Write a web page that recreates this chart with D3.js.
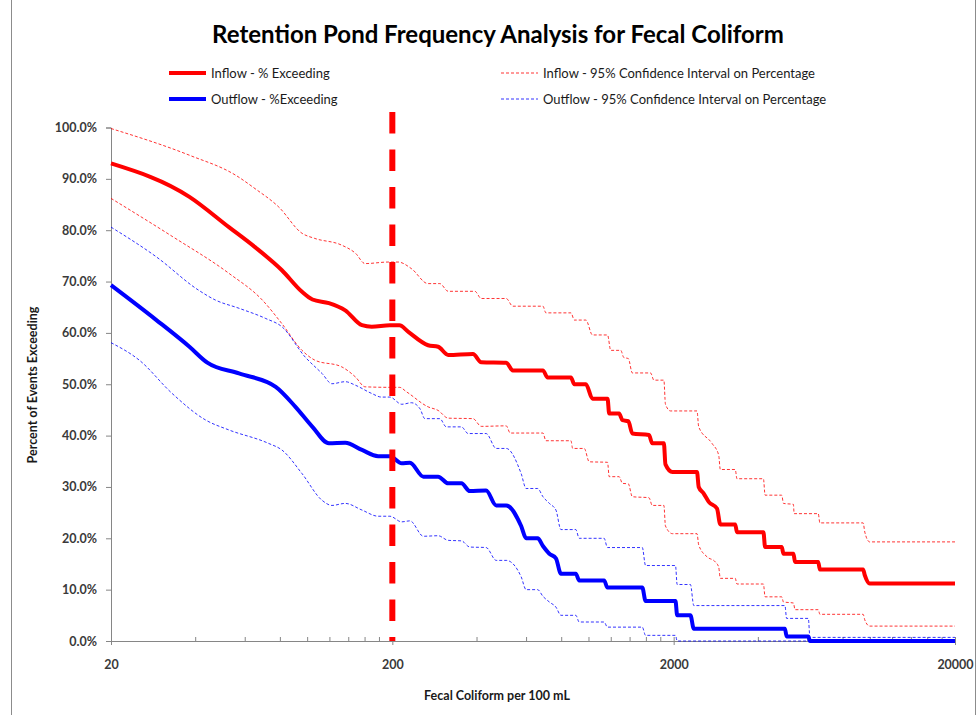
<!DOCTYPE html>
<html><head><meta charset="utf-8">
<script src="https://cdn.jsdelivr.net/npm/d3@7"></script>
<style>body{margin:0;background:#fff}svg{display:block;font-family:Lato,"Open Sans",sans-serif}</style>
</head><body><svg id="c" width="978" height="715"></svg>
<script>
// ---- data ----
const chartTitle = "Retention Pond Frequency Analysis for Fecal Coliform";
const xTitle = "Fecal Coliform per 100 mL";
const yTitle = "Percent of Events Exceeding";
const xTickValues = [20, 200, 2000, 20000];
const yTickValues = [0, 10, 20, 30, 40, 50, 60, 70, 80, 90, 100];
const standardValue = 200;
const seriesNames = ["Inflow - % Exceeding", "Outflow - %Exceeding",
  "Inflow - 95% Confidence Interval on Percentage", "Outflow - 95% Confidence Interval on Percentage"];

// [fecal coliform per 100 mL, percent exceeding]
const inflowExceed = [[20,93.0],[38,86.5],[52.5,80.6],[65,76.7],[81,72.2],[95.5,68.0],[104,66.5],[119,65.8],[136,64.4],[156,61.5],[169,61.2],[196,61.5],[212,61.5],[228,60.2],[268,57.6],[291,57.3],[316,55.7],[387,55.9],[414,54.3],[508,54.2],[536,52.7],[686,52.7],[713,51.3],[863,51.3],[887,50.0],[975,50.0],[1029,47.2],[1164,47.2],[1180,44.3],[1280,44.3],[1315,43.0],[1380,42.8],[1426,40.4],[1634,40.1],[1679,38.5],[1846,38.5],[1870,34.4],[1980,32.9],[2421,32.9],[2455,30.0],[2558,28.7],[2665,27.1],[2851,25.8],[2930,22.7],[3311,22.7],[3357,21.2],[4169,21.2],[4227,18.3],[4844,18.3],[4912,17.0],[5330,17.0],[5400,15.4],[6531,15.4],[6618,13.9],[9428,13.9],[9560,12.8],[9947,11.2],[20000,11.2]];
const inflowUpper = [[20,99.8],[38,94.6],[55.5,90.7],[65,88.1],[79,84.5],[95.5,79.4],[106,78.4],[132,77.1],[148,75.5],[160,73.5],[194,73.8],[210,73.8],[234,72.5],[268,69.6],[295,69.6],[316,68.1],[393,68.1],[414,66.7],[508,66.7],[536,65.2],[686,65.2],[703,63.9],[863,63.9],[887,62.5],[975,62.5],[1029,59.6],[1164,59.6],[1195,56.6],[1297,56.6],[1330,55.2],[1380,55.0],[1426,52.2],[1655,52.2],[1702,50.8],[1846,50.8],[1870,46.1],[1950,44.8],[2421,44.8],[2455,41.7],[2736,38.5],[2891,36.2],[2930,33.4],[3311,33.4],[3357,31.6],[4169,31.6],[4227,28.4],[4844,28.4],[4912,26.8],[5330,26.6],[5360,24.8],[6531,24.8],[6618,23.0],[9428,23.0],[9560,21.2],[9947,19.3],[20000,19.3]];
const inflowLower = [[20,86.2],[33,78.8],[52.5,71.6],[69,66.4],[81,61.8],[95.5,56.6],[106,54.7],[132,53.4],[148,51.4],[160,49.5],[196,49.4],[212,49.4],[225,48.5],[268,45.6],[291,44.9],[316,43.4],[387,43.3],[414,41.8],[508,41.9],[525,40.5],[686,40.5],[703,39.0],[863,39.0],[875,37.5],[962,37.5],[1002,34.9],[1164,34.8],[1180,32.0],[1280,32.0],[1315,30.7],[1380,30.6],[1426,28.1],[1634,27.9],[1679,26.4],[1846,26.4],[1870,22.4],[1980,20.9],[2421,20.9],[2455,18.7],[2628,16.4],[2812,15.4],[2891,14.4],[2930,12.2],[3311,12.2],[3357,11.1],[4169,11.1],[4227,8.6],[4844,8.6],[4912,7.6],[5330,7.4],[5400,6.1],[6531,6.1],[6618,5.2],[9428,5.2],[9560,4.1],[9947,2.9],[20000,2.9]];
const outflowExceed = [[20,69.3],[29,62.5],[38,57.3],[44,54.2],[57,52.1],[77,49.5],[90.5,45.6],[104,41.7],[119,38.5],[136,38.6],[156,37.2],[178,36.0],[196,36.0],[216,34.6],[231,34.7],[258,32.0],[291,32.0],[316,30.7],[352,30.7],[377,29.2],[431,29.3],[468,26.4],[508,26.4],[574,22.4],[598,20.0],[657,20.0],[686,18.5],[723,17.0],[763,16.1],[795,13.1],[898,13.1],[923,11.8],[1132,11.8],[1163,10.4],[1547,10.4],[1589,7.8],[2030,7.8],[2058,5.0],[2294,5.0],[2358,2.4],[4973,2.4],[5040,0.9],[6021,0.9],[6102,0],[20000,0]];
const outflowUpper = [[20,80.6],[29,74.8],[41,68.3],[47,66.4],[57,64.8],[71,62.8],[81,61.2],[98,55.3],[112.5,52.1],[122,50.1],[136,50.5],[148,49.8],[169,48.2],[183,47.5],[196,47.5],[216,46.1],[234,46.4],[251,45.2],[261,43.3],[295,43.3],[311,41.7],[352,41.7],[372,40.4],[431,40.4],[468,37.5],[508,37.5],[574,32.6],[598,29.7],[657,29.7],[686,28.1],[723,26.8],[763,25.5],[795,21.7],[898,21.7],[923,20.0],[1132,20.0],[1163,18.2],[1547,18.2],[1589,14.7],[2030,14.7],[2058,11.0],[2294,11.0],[2358,6.9],[4973,6.9],[5040,4.4],[6021,4.4],[6102,0.7],[20000,0.7]];
const outflowLower = [[20,58.1],[25.2,54.7],[33,48.2],[43.5,43.0],[52.5,41.1],[72.5,38.5],[81,37.2],[95.5,32.6],[112.5,27.4],[122,26.4],[136,26.8],[156,25.5],[178,24.3],[196,24.3],[216,23.2],[231,23.4],[258,20.4],[291,20.5],[316,19.6],[352,19.5],[377,18.3],[431,18.2],[468,15.7],[508,15.7],[574,12.5],[598,10.0],[657,10.0],[686,8.7],[723,7.6],[763,6.6],[795,5.0],[898,5.0],[923,3.7],[1132,3.7],[1163,2.7],[1547,2.7],[1589,1.1],[2030,1.1],[2058,0],[20000,0]];

// ---- chart ----
const svg = d3.select("#c");
const RED = "#ff0000", BLUE = "#0000ff", AX = "#868686", TXT = "#3a3a3a";
const x = d3.scaleLog().domain([20, 20000]).range([111, 955]);
const y = d3.scaleLinear().domain([0, 100]).range([641, 127.5]);

// outer chart-area border (left/right edges visible)
svg.append("rect").attr("x", 11.5).attr("y", -5).attr("width", 964).attr("height", 730)
  .attr("fill", "none").attr("stroke", "#8c8c8c").attr("stroke-width", 1);

// title
svg.append("text").attr("x", 498).attr("y", 43).attr("text-anchor", "middle")
  .attr("font-size", 24).attr("font-weight", "bold").attr("fill", "#000").text(chartTitle);

// legend
const legendItems = [
  {name: seriesNames[0], color: RED, dash: null, w: 4, op: 1, lx: 169, ly: 73},
  {name: seriesNames[1], color: BLUE, dash: null, w: 4, op: 1, lx: 169, ly: 99},
  {name: seriesNames[2], color: RED, dash: "3,2", w: 1, op: 0.8, lx: 501, ly: 73},
  {name: seriesNames[3], color: BLUE, dash: "3,2", w: 1, op: 0.8, lx: 501, ly: 99}
];
legendItems.forEach(it => {
  svg.append("line").attr("x1", it.lx).attr("x2", it.lx + 37).attr("y1", it.ly).attr("y2", it.ly)
    .attr("stroke", it.color).attr("stroke-width", it.w).attr("stroke-dasharray", it.dash)
    .attr("stroke-opacity", it.op);
  svg.append("text").attr("x", it.lx + 42).attr("y", it.ly + 4.5).attr("font-size", 13)
    .attr("fill", "#1a1a1a").text(it.name);
});

// y axis
const yAxis = svg.append("g").attr("transform", "translate(111,0)")
  .call(d3.axisLeft(y).tickValues(yTickValues).tickFormat(d => d.toFixed(1) + "%").tickSize(5).tickPadding(9));
yAxis.select(".domain").attr("stroke", AX);
yAxis.selectAll(".tick line").attr("stroke", AX);
yAxis.selectAll("text").attr("font-size", 12.5).attr("font-weight", "bold").attr("fill", TXT)
  .attr("font-family", "Lato, sans-serif");

// x axis
const xAxis = svg.append("g").attr("transform", "translate(0,641)")
  .call(d3.axisBottom(x).tickValues(xTickValues).tickFormat(d3.format("d")).tickSizeInner(4).tickSizeOuter(0).tickPadding(15));
xAxis.select(".domain").attr("stroke", AX);
xAxis.selectAll(".tick line").attr("stroke", AX).attr("y1", -4).attr("y2", 4);
xAxis.selectAll("text").attr("font-size", 12.5).attr("font-weight", "bold").attr("fill", TXT)
  .attr("font-family", "Lato, sans-serif");
// minor ticks (Excel log axis: multiples of the axis minimum)
const minorTicks = [];
[20, 200, 2000].forEach(b => { for (let m = 2; m <= 9; m++) minorTicks.push(b * m); });
svg.append("g").selectAll("line").data(minorTicks).join("line")
  .attr("x1", d => x(d)).attr("x2", d => x(d)).attr("y1", 641).attr("y2", 637)
  .attr("stroke", AX);

// axis titles
svg.append("text").attr("transform", "translate(37,385) rotate(-90)").attr("text-anchor", "middle")
  .attr("font-size", 12.5).attr("font-weight", "bold").attr("fill", "#1a1a1a").text(yTitle);
svg.append("text").attr("x", 497).attr("y", 700).attr("text-anchor", "middle")
  .attr("font-size", 12.5).attr("font-weight", "bold").attr("fill", "#1a1a1a").text(xTitle);

// series
const line = d3.line().x(d => x(d[0])).y(d => y(d[1])).curve(d3.curveMonotoneX);
const series = [
  {data: inflowUpper, color: RED, w: 1, dash: "3,2", op: 0.8},
  {data: inflowLower, color: RED, w: 1, dash: "3,2", op: 0.8},
  {data: outflowUpper, color: BLUE, w: 1, dash: "3,2", op: 0.8},
  {data: outflowLower, color: BLUE, w: 1, dash: "3,2", op: 0.8},
  {data: inflowExceed, color: RED, w: 4, dash: null, op: 1},
  {data: outflowExceed, color: BLUE, w: 4, dash: null, op: 1}
];
series.forEach(s => {
  svg.append("path").attr("d", line(s.data)).attr("fill", "none")
    .attr("stroke", s.color).attr("stroke-width", s.w).attr("stroke-dasharray", s.dash)
    .attr("stroke-opacity", s.op).attr("stroke-linejoin", "round");
});

// standard line at 200
svg.append("line").attr("x1", x(standardValue)).attr("x2", x(standardValue))
  .attr("y1", y(103)).attr("y2", y(0))
  .attr("stroke", RED).attr("stroke-width", 6).attr("stroke-dasharray", "21.5,16");
</script></body></html>
